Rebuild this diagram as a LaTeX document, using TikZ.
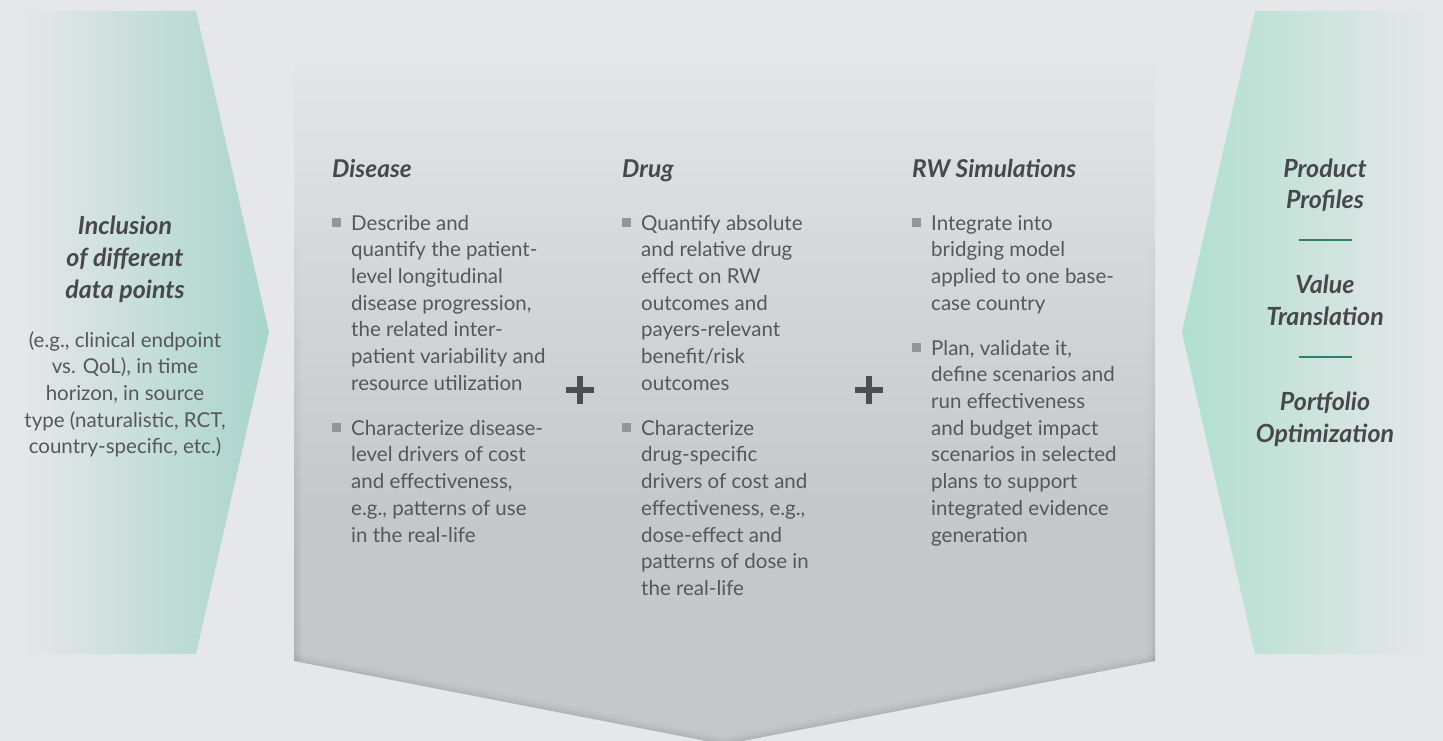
\documentclass[tikz,border=0pt]{standalone}
\usepackage{fontspec}
\setmainfont{Lato}
\usetikzlibrary{fadings}
\definecolor{bg}{HTML}{E6E7E8}
\definecolor{tealL}{HTML}{A8D5CB}
\definecolor{mintR}{HTML}{B0DFCF}
\definecolor{cbot}{HTML}{C6C7C9}
\definecolor{cmid}{HTML}{D4D5D7}
\definecolor{ctop}{HTML}{E4E5E7}
\definecolor{titlec}{HTML}{47484A}
\definecolor{bodyc}{HTML}{56575A}
\definecolor{bulc}{HTML}{939598}
\definecolor{sepc}{HTML}{2A7F6F}
\definecolor{plusc}{HTML}{4D4E50}
\pgfdeclareverticalshading{cshade}{100bp}{color(0bp)=(cbot); color(42bp)=(cbot); color(58bp)=(cmid); color(75bp)=(ctop); color(100bp)=(ctop)}
\newcommand\mybul{\noindent\llap{\textcolor{bulc}{\rule[3pt]{9pt}{9pt}}\hspace{10pt}}}
\newcommand\itemgap{\par\vspace{18.3pt}}
\begin{document}
\begin{tikzpicture}[x=1pt,y=-1pt,
  ttl/.style={anchor=base, inner sep=0pt, text=titlec, font=\fontsize{25}{32}\selectfont\bfseries\itshape},
  sidebody/.style={anchor=base, inner sep=0pt, text=bodyc, font=\fontsize{20.5}{26.7}\selectfont},
  colhead/.style={anchor=base west, inner sep=0pt, text=titlec, font=\fontsize{24.5}{30}\selectfont\bfseries\itshape},
  colbody/.style={anchor=base west, inner sep=0pt, text=bodyc, font=\fontsize{20.5}{26.7}\selectfont},
  sepline/.style={draw=sepc, line width=1.6pt},
  plusbar/.style={fill=plusc}
]
\useasboundingbox (0,0) rectangle (1443,741);
\fill[bg] (0,0) rectangle (1443,741);

% left shape
\shade[left color=bg, right color=tealL] (18,11) -- (196,11) -- (269,332) -- (196,654) -- (18,654) -- cycle;
% right shape
\shade[left color=mintR, right color=bg] (1182,332) -- (1255,11) -- (1432,11) -- (1432,654) -- (1255,654) -- cycle;

% centre chevron
\shade[shading=cshade] (294,65) -- (1155,65) -- (1155,661) -- (724.5,744.5) -- (294,661) -- cycle;
\begin{scope}
  \clip (294,65) -- (1155,65) -- (1155,661) -- (724.5,744.5) -- (294,661) -- cycle;
  \foreach \w/\o in {16/0.018, 11/0.02, 7/0.022, 3.5/0.025}{
    \draw[line width=\w pt, draw=black, opacity=\o] (270,661) -- (294,661) -- (724.5,744.5) -- (1155,661) -- (1180,661);
    \fill[black, opacity=\o, path fading=north] (264,200) rectangle (294+\w/2,661);
    \fill[black, opacity=\o, path fading=north] (1155-\w/2,200) rectangle (1185,661);
  }
\end{scope}

% left texts
\node[ttl] (lt) at (125,234) {\parbox[t]{200pt}{\centering Inclusion\\of different\\data points}};
\node[sidebody] (lb) at (125,347) {\parbox[t]{230pt}{\centering (e.g., clinical endpoint\\vs. QoL), in time\\horizon, in source\\type (naturalistic, RCT,\\country-specific, etc.)}};

% right texts
\node[ttl] (r1) at (1325,177) {\parbox[t]{200pt}{\centering Product\\Profiles}};
\node[ttl] (r2) at (1325,293) {\parbox[t]{200pt}{\centering Value\\Translation}};
\node[ttl] (r3) at (1325,410) {\parbox[t]{200pt}{\centering Portfolio\\Optimization}};
\draw[sepline] (1299,240) -- (1352,240);
\draw[sepline] (1299,357) -- (1352,357);

% column headings
\node[colhead] (h1) at (332,177) {Disease};
\node[colhead] (h2) at (622,177) {Drug};
\node[colhead] (h3) at (912,177) {RW Simulations};

% column bodies
\node[colbody] (b1) at (351,230) {\parbox[t]{240pt}{\raggedright
\mybul Describe and\\quantify the patient-\\level longitudinal\\disease progression,\\the related inter-\\patient variability and\\resource utilization\itemgap
\mybul Characterize disease-\\level drivers of cost\\and effectiveness,\\e.g., patterns of use\\in the real-life}};

\node[colbody] (b2) at (641,230) {\parbox[t]{240pt}{\raggedright
\mybul Quantify absolute\\and relative drug\\effect on RW\\outcomes and\\payers-relevant\\benefit/risk\\outcomes\itemgap
\mybul Characterize\\drug-specific\\drivers of cost and\\effectiveness, e.g.,\\dose-effect and\\patterns of dose in\\the real-life}};

\node[colbody] (b3) at (931,230) {\parbox[t]{240pt}{\raggedright
\mybul Integrate into\\bridging model\\applied to one base-\\case country\itemgap
\mybul Plan, validate it,\\define scenarios and\\run effectiveness\\and budget impact\\scenarios in selected\\plans to support\\integrated evidence\\generation}};

% plus signs
\fill[plusbar] (566,386.7) rectangle (594,393.3);
\fill[plusbar] (576.7,376) rectangle (583.3,403.5);
\fill[plusbar] (855,386.7) rectangle (883,393.3);
\fill[plusbar] (865.7,376) rectangle (872.3,403.5);
\end{tikzpicture}
\end{document}
